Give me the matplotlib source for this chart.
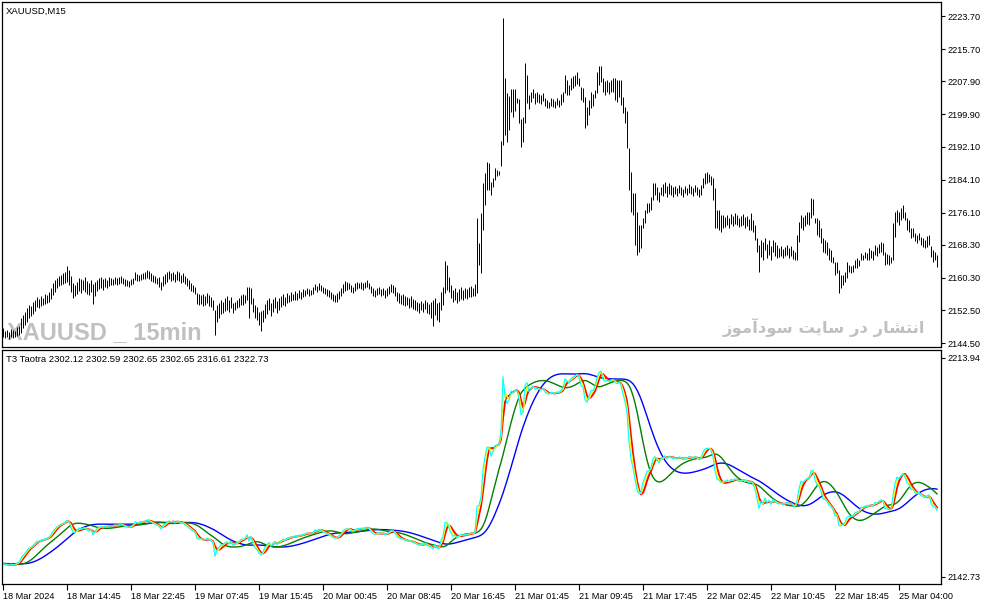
import numpy as np
import matplotlib
matplotlib.use("Agg")
import matplotlib.pyplot as plt

# bar highs / lows (XAUUSD M15), one per bar
highs = [
    2148.2, 2147.4, 2147.7, 2147.2, 2147.9, 2147.7, 2147.4, 2148.4, 2148.6, 2150.6,
    2151.3, 2152.0, 2153.0, 2153.7, 2153.5, 2154.5, 2154.9, 2155.7, 2155.2, 2155.9,
    2155.4, 2156.4, 2156.2, 2156.9, 2157.8, 2159.1, 2159.8, 2160.3, 2160.7, 2161.0,
    2161.5, 2161.7, 2163.2, 2162.2, 2160.7, 2159.1, 2158.6, 2159.3, 2160.3, 2160.0,
    2159.8, 2160.5, 2159.5, 2159.1, 2159.8, 2158.8, 2159.3, 2159.8, 2160.3, 2160.5,
    2160.0, 2160.3, 2159.8, 2160.5, 2160.3, 2160.0, 2160.5, 2160.3, 2160.5, 2160.7,
    2160.3, 2160.0, 2159.8, 2159.5, 2160.0, 2160.3, 2161.7, 2161.2, 2161.0, 2161.2,
    2161.5, 2161.7, 2162.2, 2162.0, 2161.5, 2161.0, 2160.7, 2160.3, 2160.5, 2159.3,
    2160.7, 2161.2, 2161.7, 2162.0, 2161.5, 2161.7, 2161.2, 2162.0, 2161.7, 2161.0,
    2161.5, 2160.7, 2160.3, 2159.8, 2159.1, 2158.6, 2158.1, 2156.6, 2156.4, 2156.2,
    2156.4, 2155.9, 2156.6, 2156.2, 2155.7, 2154.9, 2152.5, 2153.7, 2154.2, 2154.9,
    2154.5, 2155.4, 2155.9, 2154.9, 2155.7, 2154.2, 2154.5, 2154.9, 2155.4, 2156.2,
    2156.4, 2156.2, 2158.1, 2158.1, 2157.8, 2155.4, 2153.7, 2153.2, 2152.0, 2152.3,
    2152.5, 2154.0, 2154.9, 2155.4, 2154.2, 2155.2, 2155.7, 2154.7, 2155.4, 2155.9,
    2156.4, 2155.7, 2156.6, 2156.2, 2156.9, 2156.4, 2157.1, 2156.6, 2157.4, 2156.9,
    2157.6, 2157.4, 2157.8, 2157.6, 2157.4, 2158.1, 2158.8, 2158.3, 2159.1, 2158.6,
    2158.1, 2157.8, 2157.6, 2157.4, 2156.9, 2156.4, 2156.2, 2156.6, 2157.1, 2157.8,
    2158.8, 2159.5, 2159.3, 2159.1, 2158.6, 2158.1, 2159.1, 2159.3, 2159.1, 2159.3,
    2159.1, 2159.3, 2159.8, 2159.1, 2158.3, 2157.8, 2157.4, 2157.8, 2158.1, 2157.6,
    2157.8, 2157.4, 2157.8, 2158.3, 2158.8, 2158.6, 2158.1, 2156.9, 2156.6, 2156.2,
    2156.4, 2155.9, 2155.7, 2155.4, 2155.9, 2155.2, 2154.9, 2154.5, 2154.2, 2154.7,
    2154.2, 2154.9, 2154.5, 2154.0, 2154.5, 2154.9, 2155.4, 2154.2, 2154.5, 2156.9,
    2158.1, 2164.4, 2163.4, 2160.5, 2158.6, 2157.4, 2157.8, 2156.9, 2157.6, 2158.1,
    2157.4, 2157.8, 2157.6, 2158.1, 2158.3, 2157.8, 2158.8, 2174.8, 2168.7, 2176.0,
    2183.3, 2185.7, 2188.4, 2188.1, 2183.5, 2184.5, 2186.9, 2186.4, 2186.2, 2193.4,
    2223.2, 2208.7, 2205.1, 2204.3, 2206.0, 2206.0, 2206.0, 2203.8, 2203.6, 2198.8,
    2199.2, 2212.3, 2209.4, 2204.6, 2205.3, 2206.0, 2205.1, 2205.3, 2204.8, 2204.6,
    2205.1, 2203.8, 2203.4, 2202.9, 2203.8, 2203.6, 2203.1, 2203.8, 2203.4, 2204.8,
    2205.3, 2209.4, 2208.2, 2207.0, 2208.7, 2209.2, 2209.4, 2210.1, 2208.7, 2206.5,
    2206.3, 2204.1, 2201.7, 2203.4, 2205.3, 2204.8, 2205.8, 2210.1, 2211.6, 2211.6,
    2208.7, 2208.0, 2208.2, 2207.7, 2208.2, 2208.7, 2208.7, 2208.2, 2208.2, 2208.2,
    2204.1, 2201.7, 2200.7, 2191.7, 2185.9, 2180.8, 2180.8, 2176.2, 2173.1, 2173.1,
    2174.8, 2176.7, 2178.4, 2178.4, 2179.9, 2183.3, 2183.3, 2182.3, 2181.1, 2182.3,
    2183.0, 2183.5, 2182.5, 2183.3, 2182.8, 2182.3, 2182.5, 2182.1, 2182.8, 2182.3,
    2181.8, 2182.5, 2182.1, 2183.0, 2182.5, 2182.1, 2182.8, 2182.3, 2181.8, 2182.8,
    2184.5, 2185.7, 2185.9, 2185.4, 2185.0, 2184.5, 2182.1, 2176.7, 2176.7, 2175.5,
    2175.5, 2175.0, 2175.5, 2174.8, 2175.7, 2175.3, 2176.0, 2175.5, 2174.8, 2175.3,
    2175.7, 2175.0, 2175.3, 2174.5, 2176.0, 2174.3, 2173.1, 2169.9, 2168.3, 2169.5,
    2169.0, 2169.9, 2168.5, 2169.5, 2168.0, 2169.5, 2169.0, 2168.3, 2167.5, 2168.0,
    2167.3, 2167.8, 2168.3, 2167.5, 2168.0, 2167.0, 2166.6, 2170.7, 2173.8, 2175.5,
    2175.0, 2175.5, 2176.2, 2176.2, 2179.6, 2179.4, 2174.8, 2174.8, 2174.3, 2172.4,
    2169.9, 2169.5, 2169.0, 2167.5, 2167.0, 2165.4, 2164.1, 2164.1, 2162.2, 2161.0,
    2161.0, 2161.7, 2164.1, 2163.4, 2163.2, 2163.4, 2164.6, 2165.1, 2164.6, 2166.3,
    2165.8, 2166.6, 2166.3, 2167.5, 2167.0, 2166.8, 2168.3, 2167.8, 2168.5, 2169.0,
    2168.7, 2166.6, 2166.1, 2165.8, 2165.4, 2173.6, 2176.2, 2176.7, 2176.2, 2177.2,
    2177.9, 2176.2, 2174.8, 2174.3, 2172.4, 2172.4, 2171.2, 2170.7, 2171.2, 2170.2,
    2169.9, 2169.5, 2170.4, 2170.7, 2168.0, 2167.0, 2166.6, 2165.8,
]
lows = [
    2146.0, 2145.7, 2146.0, 2145.5, 2146.0, 2145.7, 2146.0, 2146.2, 2146.5, 2147.0,
    2148.2, 2148.9, 2149.6, 2150.6, 2151.1, 2151.5, 2152.3, 2153.2, 2153.0, 2153.5,
    2153.7, 2154.0, 2154.2, 2154.5, 2155.2, 2156.2, 2156.9, 2157.8, 2158.3, 2158.6,
    2158.8, 2159.1, 2159.3, 2158.6, 2156.9, 2155.4, 2155.9, 2156.4, 2157.1, 2156.6,
    2157.4, 2156.9, 2156.4, 2156.2, 2156.9, 2154.0, 2155.9, 2157.1, 2157.6, 2157.8,
    2157.4, 2158.1, 2157.8, 2158.3, 2158.6, 2158.6, 2158.8, 2158.6, 2158.8, 2159.1,
    2158.8, 2158.3, 2158.3, 2158.1, 2158.6, 2158.8, 2159.8, 2159.5, 2159.5, 2159.8,
    2160.0, 2160.0, 2160.3, 2160.0, 2159.5, 2159.3, 2159.1, 2158.8, 2158.1, 2157.4,
    2158.3, 2158.8, 2159.3, 2160.0, 2159.5, 2159.8, 2159.3, 2159.8, 2159.5, 2159.1,
    2159.3, 2158.8, 2158.3, 2157.6, 2157.1, 2156.9, 2156.4, 2154.0, 2153.7, 2154.0,
    2153.5, 2153.7, 2154.2, 2153.5, 2153.2, 2152.5, 2146.5, 2149.6, 2150.6, 2151.5,
    2151.8, 2152.3, 2152.5, 2152.0, 2153.0, 2151.8, 2152.5, 2153.0, 2153.2, 2153.7,
    2153.7, 2154.2, 2154.9, 2150.6, 2154.0, 2152.0, 2150.6, 2150.1, 2148.9, 2147.4,
    2149.6, 2150.6, 2151.5, 2152.5, 2151.1, 2152.0, 2153.0, 2151.8, 2152.5, 2153.2,
    2153.7, 2153.5, 2154.2, 2154.5, 2154.7, 2154.9, 2154.9, 2154.9, 2155.4, 2155.2,
    2155.7, 2155.9, 2156.4, 2155.9, 2156.2, 2156.4, 2157.4, 2156.9, 2157.4, 2157.1,
    2156.6, 2156.4, 2155.9, 2155.7, 2155.2, 2154.7, 2154.5, 2154.5, 2155.2, 2155.9,
    2156.6, 2157.1, 2157.4, 2157.6, 2156.9, 2156.6, 2157.1, 2157.6, 2157.8, 2157.6,
    2157.4, 2157.8, 2158.1, 2157.6, 2156.6, 2155.9, 2155.7, 2156.2, 2156.4, 2155.9,
    2156.2, 2155.4, 2155.9, 2156.4, 2156.9, 2156.6, 2155.9, 2154.7, 2154.2, 2154.0,
    2153.7, 2153.5, 2153.7, 2153.0, 2153.2, 2152.8, 2152.5, 2152.3, 2151.8, 2152.5,
    2152.0, 2152.8, 2151.8, 2151.5, 2150.6, 2148.6, 2151.3, 2150.1, 2149.6, 2152.5,
    2153.7, 2156.6, 2157.4, 2156.9, 2155.4, 2154.5, 2154.9, 2154.2, 2154.7, 2155.2,
    2154.9, 2155.4, 2155.2, 2155.7, 2155.7, 2155.9, 2155.9, 2156.6, 2163.4, 2161.5,
    2171.9, 2177.9, 2181.6, 2181.6, 2180.4, 2182.3, 2184.0, 2185.0, 2185.2, 2187.4,
    2192.5, 2194.9, 2193.2, 2196.1, 2200.5, 2199.2, 2200.7, 2202.6, 2197.8, 2192.0,
    2193.2, 2197.8, 2202.6, 2201.2, 2202.9, 2203.8, 2202.4, 2202.9, 2202.6, 2202.4,
    2203.1, 2201.9, 2201.4, 2201.4, 2201.9, 2201.7, 2201.4, 2202.2, 2201.7, 2202.2,
    2202.9, 2205.1, 2204.6, 2204.6, 2205.8, 2206.3, 2206.8, 2207.2, 2206.8, 2203.4,
    2202.9, 2196.6, 2197.3, 2199.7, 2201.4, 2201.9, 2203.8, 2205.1, 2207.0, 2207.7,
    2205.3, 2204.6, 2205.3, 2204.8, 2205.3, 2205.3, 2203.4, 2202.9, 2204.1, 2202.2,
    2200.2, 2197.8, 2191.7, 2181.6, 2176.2, 2175.5, 2168.3, 2165.8, 2166.6, 2167.5,
    2172.4, 2173.6, 2176.0, 2176.2, 2176.7, 2179.2, 2180.4, 2179.2, 2178.7, 2180.4,
    2180.1, 2180.8, 2179.9, 2180.6, 2180.4, 2179.9, 2180.6, 2180.1, 2180.8, 2180.4,
    2179.9, 2180.8, 2180.4, 2180.8, 2180.6, 2180.1, 2181.1, 2180.4, 2179.9, 2180.4,
    2182.1, 2183.0, 2183.3, 2183.5, 2182.8, 2179.2, 2172.4, 2172.4, 2171.9, 2171.4,
    2172.4, 2172.6, 2173.1, 2172.4, 2173.3, 2172.9, 2173.3, 2173.1, 2172.6, 2172.9,
    2173.1, 2172.4, 2172.9, 2171.9, 2171.9, 2171.4, 2169.5, 2166.6, 2161.7, 2165.4,
    2164.6, 2167.0, 2165.1, 2165.8, 2164.6, 2166.6, 2165.6, 2165.1, 2165.4, 2165.6,
    2165.1, 2165.6, 2165.8, 2165.1, 2165.6, 2164.9, 2164.6, 2164.6, 2169.0, 2172.4,
    2171.9, 2172.9, 2173.3, 2173.1, 2174.8, 2175.5, 2173.6, 2170.7, 2170.2, 2168.7,
    2166.6, 2166.3, 2165.8, 2164.6, 2164.1, 2163.9, 2161.0, 2161.5, 2156.6, 2157.8,
    2158.6, 2159.3, 2160.3, 2161.7, 2161.5, 2161.7, 2162.7, 2162.7, 2163.2, 2164.6,
    2164.6, 2165.1, 2164.6, 2164.6, 2165.1, 2164.6, 2165.8, 2165.6, 2166.3, 2166.6,
    2165.8, 2163.4, 2163.7, 2163.4, 2163.9, 2164.6, 2170.2, 2173.8, 2173.1, 2174.3,
    2174.8, 2174.3, 2171.9, 2171.4, 2169.9, 2170.2, 2169.2, 2168.7, 2169.5, 2168.3,
    2167.8, 2167.5, 2167.8, 2168.3, 2165.4, 2164.1, 2164.6, 2162.9,
]

date_bars = [0, 32, 64, 96, 128, 160, 192, 224, 256, 288, 320, 352, 384, 416, 448]
date_labels = ["18 Mar 2024", "18 Mar 14:45", "18 Mar 22:45", "19 Mar 07:45",
               "19 Mar 15:45", "20 Mar 00:45", "20 Mar 08:45", "20 Mar 16:45",
               "21 Mar 01:45", "21 Mar 09:45", "21 Mar 17:45", "22 Mar 02:45",
               "22 Mar 10:45", "22 Mar 18:45", "25 Mar 04:00"]
price_ticks = [2223.70, 2215.70, 2207.90, 2199.90, 2192.10, 2184.10,
               2176.10, 2168.30, 2160.30, 2152.50, 2144.50]
ind_ticks = [2213.94, 2142.73]
# drawn slow to fast so the fast lines sit on top
t3_periods = [19, 11, 3, 2, 1]
t3_colors = ["#0000FF", "#008000", "#FF0000", "#FFFF00", "#00FFFF"]
t3_widths = [1.0, 1.0, 1.4, 1.0, 0.8]
legend_text = "T3 Taotra 2302.12 2302.59 2302.65 2302.65 2316.61 2322.73"
watermark = "XAUUSD _ 15min"
site_text = "انتشار در سایت سودآموز"


def t3(src, n, vf=0.7):
    a = 2.0 / (n + 1)
    stages = [np.asarray(src, float)]
    for _ in range(6):
        prev = stages[-1]
        e = np.empty_like(prev)
        e[0] = prev[0]
        for i in range(1, len(prev)):
            e[i] = e[i - 1] + a * (prev[i] - e[i - 1])
        stages.append(e)
    c1 = -vf ** 3
    c2 = 3 * vf ** 2 + 3 * vf ** 3
    c3 = -6 * vf ** 2 - 3 * vf - 3 * vf ** 3
    c4 = 1 + 3 * vf + vf ** 3 + 3 * vf ** 2
    return c1 * stages[6] + c2 * stages[5] + c3 * stages[4] + c4 * stages[3]


# contextual letter forms (isolated, final, initial, medial), matplotlib has no shaping
FORMS = {
    "ا": ("\uFE8D", "\uFE8E", None, None),
    "آ": ("\uFE81", "\uFE82", None, None),
    "د": ("\uFEA9", "\uFEAA", None, None),
    "ر": ("\uFEAD", "\uFEAE", None, None),
    "ز": ("\uFEAF", "\uFEB0", None, None),
    "و": ("\uFEED", "\uFEEE", None, None),
    "ن": ("\uFEE5", "\uFEE6", "\uFEE7", "\uFEE8"),
    "ت": ("\uFE95", "\uFE96", "\uFE97", "\uFE98"),
    "ش": ("\uFEB5", "\uFEB6", "\uFEB7", "\uFEB8"),
    "س": ("\uFEB1", "\uFEB2", "\uFEB3", "\uFEB4"),
    "ی": ("\uFBFC", "\uFBFD", "\uFBFE", "\uFBFF"),
    "م": ("\uFEE1", "\uFEE2", "\uFEE3", "\uFEE4"),
}


def shape(text):
    out = []
    for i, ch in enumerate(text):
        if ch not in FORMS:
            out.append(ch)
            continue
        prev = text[i - 1] if i > 0 else ""
        nxt = text[i + 1] if i + 1 < len(text) else ""
        iso, fin, ini, med = FORMS[ch]
        jp = prev in FORMS and FORMS[prev][2] is not None
        jn = ini is not None and nxt in FORMS
        if jp and jn:
            out.append(med)
        elif jp:
            out.append(fin)
        elif jn:
            out.append(ini)
        else:
            out.append(iso)
    return "".join(reversed(out))


plt.rcParams["font.family"] = ["Liberation Sans", "DejaVu Sans"]
W, H = 987, 605
fig = plt.figure(figsize=(W / 100, H / 100), dpi=100)
ax1 = fig.add_axes([2 / W, 1 - 347 / H, 939 / W, 345 / H])
ax2 = fig.add_axes([2 / W, 1 - 584 / H, 939 / W, 234 / H])

x = np.arange(len(highs))
hi = np.array(highs)
lo = np.array(lows)
median = (hi + lo) / 2

ax1.vlines(x, lo, hi, color="black", linewidth=0.7, zorder=3)
ax1.set_xlim(-0.5, 469)
ax1.set_ylim(2143.56, 2227.09)
ax1.set_xticks([])
ax1.yaxis.tick_right()
ax1.set_yticks(price_ticks)
ax1.set_yticklabels(["%.2f" % v for v in price_ticks])
ax1.tick_params(axis="y", direction="out", length=3, width=0.8, pad=1.5, labelsize=6.6)

fig.text(6 / W, 1 - 11 / H, "XAUUSD,M15", fontsize=6.8, va="center", ha="left")
ax1.text(7 / W, 1 - 339 / H, watermark, transform=fig.transFigure, fontsize=17,
         fontweight="bold", color="#C0C0C0", ha="left", va="baseline", zorder=0)
ax1.text(925 / W, 1 - 327 / H, shape(site_text), transform=fig.transFigure,
         fontsize=11.8, fontweight="bold", color="#C0C0C0", ha="right", va="center",
         zorder=0, family=["DejaVu Sans"])

for n, c, lw in zip(t3_periods, t3_colors, t3_widths):
    ax2.plot(x, t3(median, n), color=c, linewidth=lw)
ax2.set_xlim(-0.5, 469)
ax2.set_ylim(2140.45, 2216.54)
ax2.yaxis.tick_right()
ax2.set_yticks(ind_ticks)
ax2.set_yticklabels(["%.2f" % v for v in ind_ticks])
ax2.tick_params(axis="y", direction="out", length=3, width=0.8, pad=1.5, labelsize=6.6)
ax2.set_xticks(date_bars)
ax2.set_xticklabels(date_labels, ha="left")
ax2.tick_params(axis="x", direction="out", length=4, width=0.8, pad=2, labelsize=6.6)
fig.text(6 / W, 1 - 359 / H, legend_text, fontsize=6.8, va="center", ha="left")

for ax in (ax1, ax2):
    for s in ax.spines.values():
        s.set_linewidth(0.9)

fig.savefig("out.png", dpi=100)
